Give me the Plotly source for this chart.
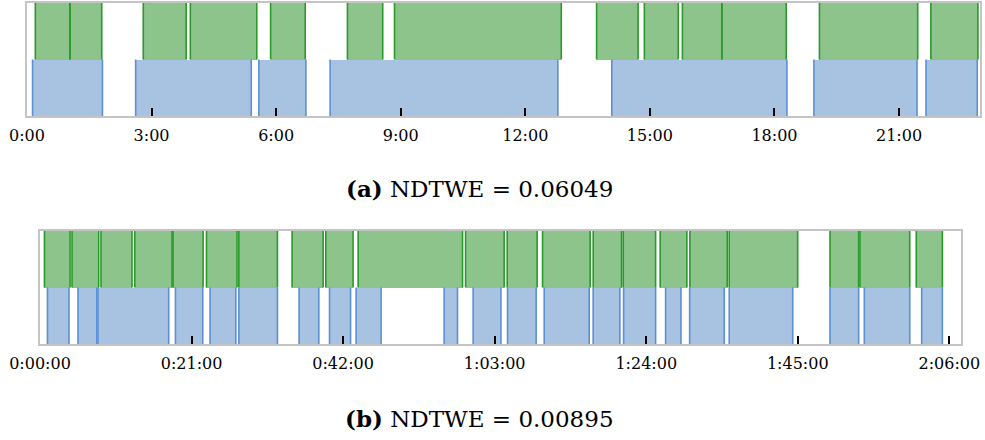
import plotly.graph_objects as go

# ---------------- data (seconds) ----------------
green_a_start = [12, 62, 168, 236, 352, 463, 531, 823, 892, 947, 1004, 1145, 1306]
green_a_end = [62, 108, 230, 332, 402, 514, 772, 883, 941, 1004, 1097, 1287, 1374]
blue_a_start = [8, 157, 335, 438, 845, 1137, 1299]
blue_a_end = [109, 324, 403, 767, 1098, 1286, 1373]

green_b_start = [37, 266, 507, 788, 1106, 1384, 1653, 2096, 2376, 2645, 3538,
                 3884, 4178, 4599, 4849, 5156, 5403, 5730, 6568, 6817, 7285]
green_b_end = [250, 488, 765, 1098, 1356, 1638, 1974, 2354, 2603, 3513, 3859,
               4133, 4574, 4835, 5118, 5378, 5714, 6299, 6806, 7231, 7502]
blue_b_start = [62, 316, 482, 1126, 1414, 1653, 2154, 2407, 2628, 3360, 3601,
                3887, 4192, 4599, 4852, 5201, 5401, 5730, 6568, 6853, 7330]
blue_b_end = [241, 472, 1070, 1353, 1628, 1974, 2318, 2582, 2836, 3471, 3832,
              4125, 4566, 4821, 5118, 5329, 5689, 6258, 6806, 7231, 7502]

ticks_a = [0, 180, 360, 540, 720, 900, 1080, 1260]
ticklabels_a = ["0:00", "3:00", "6:00", "9:00", "12:00", "15:00", "18:00", "21:00"]
ticks_b = [0, 1260, 2520, 3780, 5040, 6300, 7560]
ticklabels_b = ["0:00:00", "0:21:00", "0:42:00", "1:03:00", "1:24:00", "1:45:00", "2:06:00"]

range_a = [0, 1377]
range_b = [0, 7657]

caption_a = "<b>(a)</b> NDTWE = 0.06049"
caption_b = "<b>(b)</b> NDTWE = 0.00895"

GREEN_FILL = "#8cc48c"
GREEN_EDGE = "#2a9a2a"
BLUE_FILL = "#a8c2e1"
BLUE_EDGE = "#5b8fd6"

fig = go.Figure()


def add_segments(starts, ends, row_center, fill, edge, xa, ya):
    durs = [e - s for s, e in zip(starts, ends)]
    fig.add_trace(go.Bar(
        orientation="h", base=starts, x=durs, y=[row_center] * len(starts),
        width=1.0, marker=dict(color=fill, line=dict(width=0)),
        xaxis=xa, yaxis=ya, hoverinfo="skip"))
    lx, ly = [], []
    y0, y1 = row_center - 0.5, row_center + 0.5
    for s, e in zip(starts, ends):
        lx += [s, s, None, e, e, None]
        ly += [y0, y1, None, y0, y1, None]
    fig.add_trace(go.Scatter(
        x=lx, y=ly, mode="lines", line=dict(color=edge, width=1.6),
        xaxis=xa, yaxis=ya, hoverinfo="skip"))


add_segments(green_a_start, green_a_end, 1.5, GREEN_FILL, GREEN_EDGE, "x", "y")
add_segments(blue_a_start, blue_a_end, 0.5, BLUE_FILL, BLUE_EDGE, "x", "y")
add_segments(green_b_start, green_b_end, 1.5, GREEN_FILL, GREEN_EDGE, "x2", "y2")
add_segments(blue_b_start, blue_b_end, 0.5, BLUE_FILL, BLUE_EDGE, "x2", "y2")

W, H = 985, 440
tickfont = dict(family="DejaVu Serif", size=16, color="black")
border = dict(showline=True, mirror=True, linecolor="#c4c4c4", linewidth=2,
              showgrid=False, zeroline=False, automargin=False)

fig.update_layout(
    template="none",
    width=W, height=H, margin=dict(l=0, r=0, t=0, b=0, autoexpand=False),
    paper_bgcolor="white", plot_bgcolor="white", showlegend=False,
    barmode="overlay", bargap=0,
    xaxis=dict(domain=[27 / W, 980 / W], range=range_a, anchor="y",
               tickvals=ticks_a, ticktext=ticklabels_a, ticks="inside",
               ticklen=8, tickwidth=2, tickcolor="black", tickfont=tickfont,
               ticklabelstandoff=4, **border),
    yaxis=dict(domain=[1 - 116 / H, 1 - 3 / H], range=[0, 2], anchor="x",
               showticklabels=False, ticks="", **border),
    xaxis2=dict(domain=[40 / W, 961 / W], range=range_b, anchor="y2",
                tickvals=ticks_b, ticktext=ticklabels_b, ticks="inside",
                ticklen=8, tickwidth=2, tickcolor="black", tickfont=tickfont,
                ticklabelstandoff=4, **border),
    yaxis2=dict(domain=[1 - 344 / H, 1 - 231 / H], range=[0, 2], anchor="x2",
                showticklabels=False, ticks="", **border),
    annotations=[
        dict(text=caption_a, x=479 / W, y=1 - 188 / H, xref="paper", yref="paper",
             showarrow=False, xanchor="center", yanchor="middle",
             font=dict(family="DejaVu Serif", size=23, color="black")),
        dict(text=caption_b, x=479 / W, y=1 - 418 / H, xref="paper", yref="paper",
             showarrow=False, xanchor="center", yanchor="middle",
             font=dict(family="DejaVu Serif", size=23, color="black")),
    ],
)

fig.write_html("out.html")
